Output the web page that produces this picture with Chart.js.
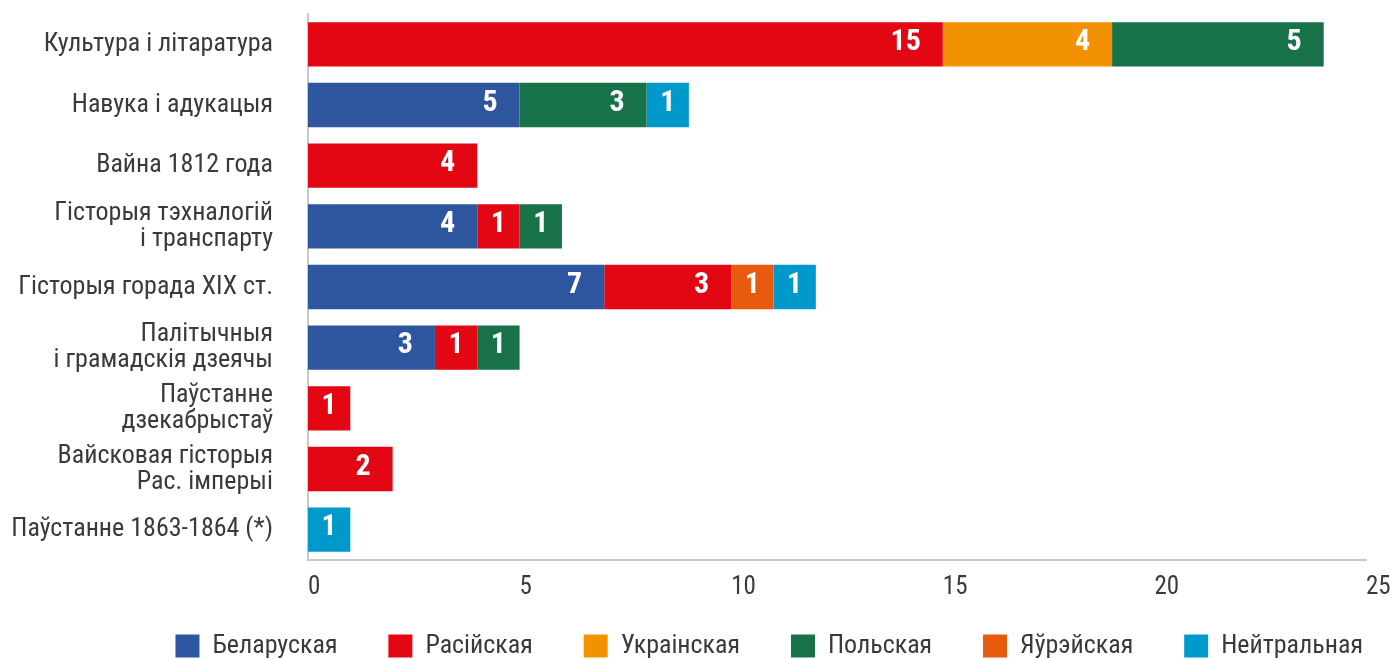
<!DOCTYPE html>
<html>
<head>
<meta charset="utf-8">
<script src="https://cdn.jsdelivr.net/npm/chart.js@4"></script>
<style>
  html, body { margin: 0; padding: 0; background: #fff; }
</style>
</head>
<body>
<canvas id="themesChart" width="1395" height="659"></canvas>
<script>
const categories = [
  "Культура і літаратура",
  "Навука і адукацыя",
  "Вайна 1812 года",
  ["Гісторыя тэхналогій", "і транспарту"],
  "Гісторыя горада XIX ст.",
  ["Палітычныя", "і грамадскія дзеячы"],
  ["Паўстанне", "дзекабрыстаў"],
  ["Вайсковая гісторыя", "Рас. імперыі"],
  "Паўстанне 1863-1864 (*)"
];
const seriesNames = ["Беларуская", "Расійская", "Украінская", "Польская", "Яўрэйская", "Нейтральная"];
const belarusian = [0, 5, 0, 4, 7, 3, 0, 0, 0];
const russian    = [15, 0, 4, 1, 3, 1, 1, 2, 0];
const ukrainian  = [4, 0, 0, 0, 0, 0, 0, 0, 0];
const polish     = [5, 3, 0, 1, 0, 1, 0, 0, 0];
const jewish     = [0, 0, 0, 0, 1, 0, 0, 0, 0];
const neutral    = [0, 1, 0, 0, 1, 0, 0, 0, 1];
const xMax = 25;
const xStep = 5;

const colors = ["#2e569e", "#e30613", "#f39200", "#187249", "#e85a0e", "#0099cc"];
const fontFamily = "'Liberation Sans Narrow', 'Roboto Condensed', 'DejaVu Sans Condensed', Roboto, sans-serif";

// white numbers near the end of each segment
const valueLabels = {
  id: "valueLabels",
  afterDatasetsDraw(chart) {
    const ctx = chart.ctx;
    ctx.save();
    ctx.font = "bold 30px " + fontFamily;
    ctx.fillStyle = "#fff";
    ctx.textBaseline = "middle";
    chart.data.datasets.forEach((ds, i) => {
      chart.getDatasetMeta(i).data.forEach((bar, j) => {
        const v = ds.data[j];
        if (!v) return;
        const w = bar.x - bar.base;
        if (w < 60) {
          ctx.textAlign = "center";
          ctx.fillText(v, bar.base + w / 2, bar.y - 2);
        } else {
          ctx.textAlign = "right";
          ctx.fillText(v, bar.x - 22, bar.y - 2);
        }
      });
    });
    ctx.restore();
  }
};

const series = [belarusian, russian, ukrainian, polish, jewish, neutral];

new Chart(document.getElementById("themesChart"), {
  type: "bar",
  data: {
    labels: categories,
    datasets: series.map((d, i) => ({
      label: seriesNames[i],
      data: d,
      backgroundColor: colors[i],
      borderWidth: 0,
      barPercentage: 0.73,
      categoryPercentage: 1
    }))
  },
  options: {
    indexAxis: "y",
    responsive: false,
    animation: false,
    layout: { padding: { top: 14, right: 5, left: 0, bottom: 0 } },
    scales: {
      x: {
        stacked: true,
        min: 0,
        max: xMax,
        grid: { display: false, drawTicks: false },
        border: { display: true, color: "#c8c8c8", width: 2 },
        ticks: {
          stepSize: xStep,
          align: "start",
          padding: 13,
          color: "#3a3a3a",
          font: { family: fontFamily, size: 25 }
        },
        afterFit: s => {
          s.height = 46;
          s.paddingLeft = 0;
          s.paddingRight = 29;
        }
      },
      y: {
        stacked: true,
        grid: { display: false, drawTicks: false },
        border: { display: true, color: "#c8c8c8", width: 2 },
        ticks: {
          autoSkip: false,
          padding: 35,
          color: "#3a3a3a",
          font: { family: fontFamily, size: 26, lineHeight: 1 }
        },
        afterFit: s => {
          s.width = 308;
          s.paddingTop = 0;
          s.paddingBottom = 0;
        }
      }
    },
    plugins: {
      tooltip: { enabled: false },
      legend: {
        position: "bottom",
        align: "end",
        maxHeight: 53,
        labels: {
          boxWidth: 24,
          boxHeight: 23,
          padding: 27,
          color: "#3a3a3a",
          font: { family: fontFamily, size: 26 },
          // trailing spaces widen the gap between items without pushing the row down
          generateLabels: chart => {
            const items = Chart.defaults.plugins.legend.labels.generateLabels(chart);
            items.forEach((it, i) => {
              if (i < items.length - 1) it.text += "    ";
            });
            return items;
          }
        }
      }
    }
  },
  plugins: [valueLabels]
});
</script>
</body>
</html>
